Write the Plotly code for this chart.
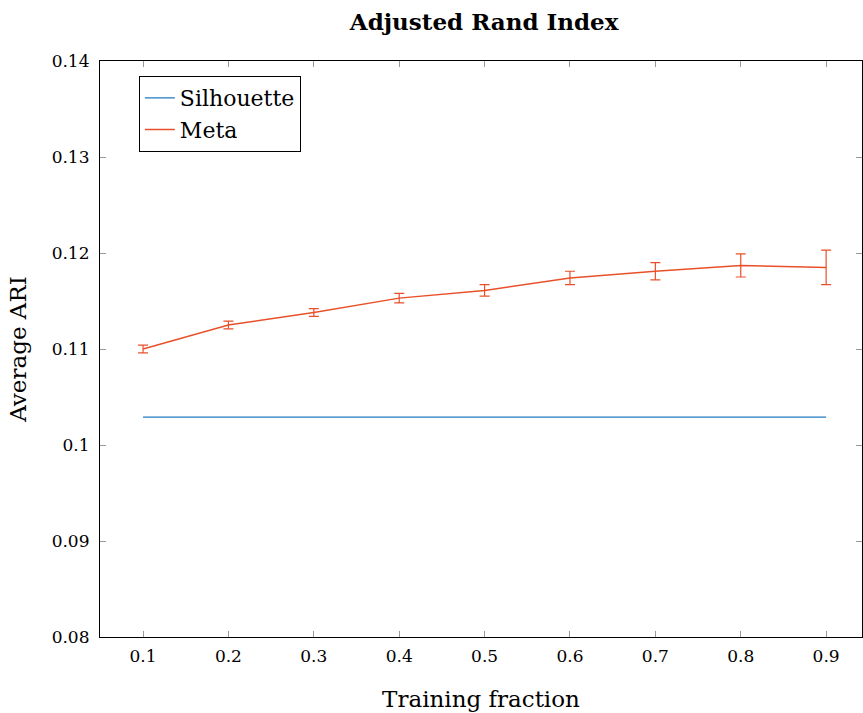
import plotly.graph_objects as go

fractions = [0.1, 0.2, 0.3, 0.4, 0.5, 0.6, 0.7, 0.8, 0.9]
silhouette = [0.1029] * 9
meta = [0.1100, 0.1125, 0.1138, 0.1153, 0.1161, 0.1174, 0.1181, 0.1187, 0.1185]
meta_err = [0.0004, 0.0004, 0.0004, 0.0005, 0.0006, 0.0007, 0.0009, 0.0012, 0.0018]
x_ticks = [0.1, 0.2, 0.3, 0.4, 0.5, 0.6, 0.7, 0.8, 0.9]
y_ticks = [0.08, 0.09, 0.1, 0.11, 0.12, 0.13, 0.14]
y_labels = ["0.08", "0.09", "0.1", "0.11", "0.12", "0.13", "0.14"]

FONT = "DejaVu Serif"
BLUE = "#1f78c1"
RED = "#e8502a"

fig = go.Figure()
fig.add_trace(go.Scatter(x=fractions, y=silhouette, mode="lines", name="Silhouette",
                         line=dict(color=BLUE, width=1.2)))
fig.add_trace(go.Scatter(x=fractions, y=meta, mode="lines", name="Meta",
                         line=dict(color=RED, width=1.5),
                         error_y=dict(type="data", array=meta_err, visible=True,
                                      color=RED, thickness=1.2, width=5)))

axis_common = dict(showline=True, linecolor="black", linewidth=1.2, mirror="ticks",
                   ticks="inside", ticklen=6, tickcolor="#999999", tickwidth=1,
                   showgrid=False, zeroline=False,
                   tickfont=dict(family=FONT, size=17, color="black"))

fig.update_layout(
    width=863, height=713,
    paper_bgcolor="white", plot_bgcolor="white",
    margin=dict(l=100, r=1, t=61, b=76),
    title=dict(text="<b>Adjusted Rand Index</b>", x=0.561, xanchor="center", y=0.969, yanchor="middle",
               font=dict(family=FONT, size=23, color="black")),
    xaxis=dict(range=[0.0496, 0.942], tickvals=x_ticks, ticklabelstandoff=3,
               title=dict(text="Training fraction", font=dict(family=FONT, size=23, color="black"), standoff=26),
               **axis_common),
    yaxis=dict(range=[0.08, 0.14], tickvals=y_ticks, ticktext=y_labels, ticklabelstandoff=6,
               title=dict(text="Average ARI", font=dict(family=FONT, size=23, color="black"), standoff=18),
               **axis_common),
    legend=dict(x=0.051, y=0.974, xanchor="left", yanchor="top",
                bordercolor="black", borderwidth=1, bgcolor="white",
                font=dict(family=FONT, size=22, color="black"),
                itemwidth=30, tracegroupgap=0),
    showlegend=True,
)

fig.write_html("out.html", config={"displayModeBar": False},
               post_script="document.body.style.margin='0px';document.body.style.overflow='hidden';")
